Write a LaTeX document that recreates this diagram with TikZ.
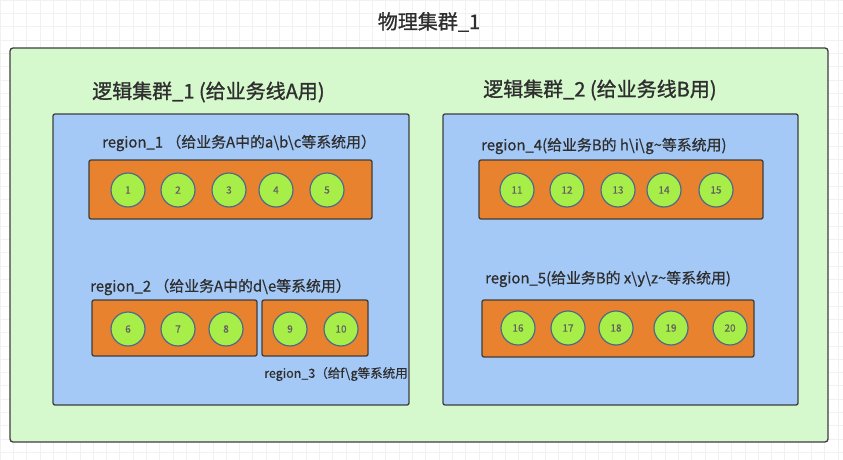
\documentclass[tikz,border=0pt]{standalone}
\usepackage{fontspec}
\setmainfont{Noto Sans CJK SC}[FakeBold=0.6]
\newfontfamily\medfont{Noto Sans CJK SC}[FakeBold=0.6]
\newfontfamily\bigfont{Noto Sans CJK SC}[FakeBold=1.1]
\definecolor{gridc}{HTML}{F1F1F1}
\definecolor{physfill}{HTML}{D5F8CC}
\definecolor{logfill}{HTML}{A5C9F7}
\definecolor{regfill}{HTML}{E8822F}
\definecolor{nodefill}{HTML}{A8EE48}
\definecolor{nodeline}{HTML}{4B6C86}
\definecolor{edgec}{HTML}{3E3E3E}
\definecolor{txt}{HTML}{2E2E2E}
\tikzset{
  physbox/.style={draw=edgec, line width=1.3pt, fill=physfill, rounded corners=3pt},
  logbox/.style={draw=edgec, line width=1.3pt, fill=logfill, rounded corners=2pt},
  regbox/.style={draw=edgec, line width=1.3pt, fill=regfill, rounded corners=2pt},
  srv/.style={circle, draw=nodeline, line width=1.2pt, fill=nodefill, minimum size=34pt, inner sep=0pt, font=\fontsize{10}{12}\selectfont, text=txt!75},
  bigl/.style={font=\bigfont\fontsize{20}{24}\selectfont, text=txt, inner sep=0pt, anchor=west},
  regl/.style={font=\medfont\fontsize{14.9}{17}\selectfont, text=txt, inner sep=0pt, anchor=west},
}
\begin{document}
\begin{tikzpicture}[x=1pt,y=-1pt]
\useasboundingbox (0,0) rectangle (843,460);
\fill[white] (0,0) rectangle (843,460);
\draw[gridc, line width=0.6pt, step=13.3pt] (0,0) grid (843,460);
% physical cluster
\node[font=\bigfont\fontsize{20}{24}\selectfont, text=txt, inner sep=0pt] (title) at (429,22) {物理集群\_1};
\draw[physbox] (10,48) rectangle (828,442);
% logical clusters
\node[bigl] (l1) at (92,92) {逻辑集群\_1 (给业务线A用)};
\node[bigl] (l2) at (483,90) {逻辑集群\_2 (给业务线B用)};
\draw[logbox] (53,114) rectangle (409,405);
\draw[logbox] (443,114) rectangle (798,405);
% regions
\node[regl] (r1l) at (102,143) {region\_1 （给业务A中的a\textbackslash b\textbackslash c等系统用）};
\draw[regbox] (89,160) rectangle (372,219);
\node[regl] (r2l) at (90,287) {region\_2 （给业务A中的d\textbackslash e等系统用）};
\draw[regbox] (92,300) rectangle (257,356);
\draw[regbox] (262,300) rectangle (368,356);
\begin{scope}
\clip (53,114) rectangle (408,405);
\node[regl, font=\medfont\fontsize{12.5}{15}\selectfont] (r3l) at (264,374) {region\_3（给f\textbackslash g等系统用）};
\end{scope}
\node[regl] (r4l) at (481,146) {region\_4(给业务B的 h\textbackslash i\textbackslash g\textasciitilde 等系统用)};
\draw[regbox] (479,160) rectangle (763,219);
\node[regl] (r5l) at (485,279) {region\_5(给业务B的 x\textbackslash y\textbackslash z\textasciitilde 等系统用)};
\draw[regbox] (482,300) rectangle (754,357);
% servers
\node[srv] (n1) at (128,190) {1};
\node[srv] (n2) at (178,190) {2};
\node[srv] (n3) at (229,190) {3};
\node[srv] (n4) at (276,190) {4};
\node[srv] (n5) at (327,190) {5};
\node[srv] (n6) at (128,329) {6};
\node[srv] (n7) at (178,329) {7};
\node[srv] (n8) at (226,329) {8};
\node[srv] (n9) at (290,329) {9};
\node[srv] (n10) at (341,329) {10};
\node[srv] (n11) at (517,190) {11};
\node[srv] (n12) at (567,190) {12};
\node[srv] (n13) at (618,190) {13};
\node[srv] (n14) at (664,190) {14};
\node[srv] (n15) at (716,190) {15};
\node[srv] (n16) at (518,328) {16};
\node[srv] (n17) at (568,328) {17};
\node[srv] (n18) at (616,328) {18};
\node[srv] (n19) at (671,328) {19};
\node[srv] (n20) at (730,328) {20};
\end{tikzpicture}
\end{document}
